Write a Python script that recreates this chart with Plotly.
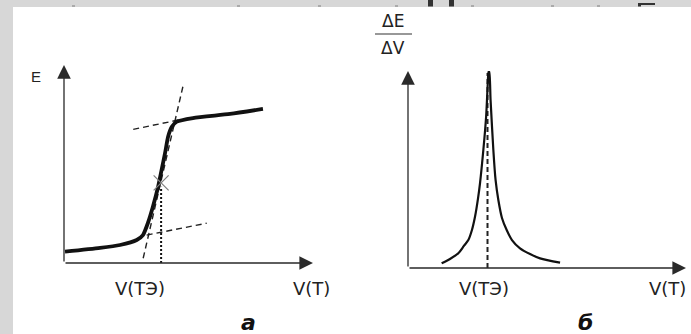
import plotly.graph_objects as go

W, H = 691, 334

# ---- data (schematic units) ----
# (a) potentiometric titration curve E = f(V)
titr_v = [0.04, 1.45, 2.25, 2.92, 3.17, 3.37, 3.57, 3.78, 3.92, 4.06, 4.18, 4.33, 4.53, 5.18, 6.67, 7.99]
titr_e = [0.57, 0.76, 0.91, 1.16, 1.41, 2.02, 2.84, 3.85, 4.70, 5.56, 6.38, 6.88, 7.14, 7.32, 7.53, 7.78]
# tangent lines
upper_v = [2.78, 4.59]
upper_e = [6.75, 7.22]
steep_v = [3.18, 4.79]
steep_e = [0.24, 8.99]
lower_v = [3.32, 5.73]
lower_e = [1.41, 2.01]
# equivalence point
eq_v = 3.9
eq_e = 4.05

# (б) first derivative dE/dV = f(V)
deriv_v = [1.21, 1.51, 1.81, 2.01, 2.17, 2.30, 2.41, 2.52, 2.59, 2.71, 2.81, 2.87, 2.90,
           2.92, 2.97, 3.07, 3.15, 3.25, 3.38, 3.55, 3.74, 4.03, 4.39, 4.75, 5.47]
deriv_y = [0.24, 0.46, 0.75, 1.12, 1.42, 1.93, 2.60, 3.55, 4.30, 5.99, 7.68, 9.38, 9.96,
           9.96, 8.53, 5.99, 4.47, 3.45, 2.54, 1.93, 1.42, 1.00, 0.71, 0.49, 0.27]
peak_v = 2.86
peak_y = 9.9

x_labels = ["V(ТЭ)", "V(Т)"]
panel_labels = ["а", "б"]


def px(x):
    return x / W


def py(y):
    return 1 - y / H


fig = go.Figure()

# left panel traces
for tv, te in [(upper_v, upper_e), (steep_v, steep_e), (lower_v, lower_e)]:
    fig.add_trace(go.Scatter(x=tv, y=te, mode="lines", xaxis="x", yaxis="y",
                             line=dict(color="#222", width=1.4, dash="6px,4px")))
fig.add_trace(go.Scatter(x=[eq_v, eq_v], y=[0, eq_e - 0.2], mode="lines", xaxis="x", yaxis="y",
                         line=dict(color="#111", width=2, dash="2px,2px")))
fig.add_trace(go.Scatter(x=titr_v, y=titr_e, mode="lines", xaxis="x", yaxis="y",
                         line=dict(color="#111", width=3.8, shape="spline", smoothing=0.6)))
fig.add_trace(go.Scatter(x=[eq_v], y=[eq_e], mode="markers", xaxis="x", yaxis="y",
                         marker=dict(symbol="x-thin-open", size=15, color="#808080",
                                     line=dict(color="#808080", width=1.2))))

# right panel traces
fig.add_trace(go.Scatter(x=[peak_v, peak_v], y=[0, peak_y], mode="lines", xaxis="x2", yaxis="y2",
                         line=dict(color="#222", width=2, dash="5px,3px")))
fig.add_trace(go.Scatter(x=deriv_v, y=deriv_y, mode="lines", xaxis="x2", yaxis="y2",
                         line=dict(color="#111", width=2.2, shape="spline", smoothing=0.8)))

ax_common = dict(visible=False, range=[0, 10], fixedrange=True)
fig.update_layout(
    width=W, height=H,
    margin=dict(l=0, r=0, t=0, b=0),
    paper_bgcolor="#d7d7d7",
    plot_bgcolor="rgba(0,0,0,0)",
    showlegend=False,
    xaxis=dict(domain=[px(64), px(313)], anchor="y", **ax_common),
    yaxis=dict(domain=[py(263), py(65)], anchor="x", **ax_common),
    xaxis2=dict(domain=[px(408), px(686)], anchor="y2", **ax_common),
    yaxis2=dict(domain=[py(268), py(71)], anchor="x2", **ax_common),
)

shapes = [
    # white sheet
    dict(type="rect", xref="paper", yref="paper", x0=px(13), x1=1, y0=0, y1=py(7),
         fillcolor="white", line=dict(width=0), layer="below"),
    # fraction bar of dE/dV
    dict(type="line", xref="paper", yref="paper", x0=px(375), x1=px(412), y0=py(34), y1=py(34),
         line=dict(color="#333", width=1.2)),
]
# fragments of the cut-off heading in the top grey strip
for (x0, x1, y0, y1, c) in [(428, 433, 0, 6.5, "#333"), (449, 454, 0, 6.5, "#333"),
                            (638, 655, 3, 5, "#333"), (638, 641, 3, 6.5, "#333"),
                            (72, 75, 5, 7, "#aaa"), (237, 240, 5, 7, "#aaa"), (318, 321, 5, 7, "#aaa"),
                            (395, 398, 5, 7, "#aaa"), (471, 474, 5, 7, "#aaa"), (551, 554, 5, 7, "#aaa"),
                            (597, 600, 5, 7, "#aaa")]:
    shapes.append(dict(type="rect", xref="paper", yref="paper", x0=px(x0), x1=px(x1),
                       y0=py(y1), y1=py(y0), fillcolor=c, line=dict(width=0)))

arrow = dict(showarrow=True, arrowhead=2, arrowsize=2.1, arrowwidth=1.3, arrowcolor="#2a2a2a",
             text="", standoff=0)
annotations = [
    dict(x=10, y=0, ax=0, ay=0, xref="x", yref="y", axref="x", ayref="y", **arrow),
    dict(x=0, y=10, ax=0, ay=0, xref="x", yref="y", axref="x", ayref="y", **arrow),
    dict(x=10, y=0, ax=0, ay=0, xref="x2", yref="y2", axref="x2", ayref="y2", **arrow),
    dict(x=0, y=10, ax=0, ay=0, xref="x2", yref="y2", axref="x2", ayref="y2", **arrow),
]

lab_font = dict(family="DejaVu Sans", size=18, color="#222")


def label(text, x, y, font):
    annotations.append(dict(text=text, x=px(x), y=py(y), xref="paper", yref="paper",
                            xanchor="center", yanchor="middle", showarrow=False, font=font))


label("E", 36, 76, dict(family="Liberation Sans", size=15, color="#222"))
label(x_labels[0], 140, 288, lab_font)
label(x_labels[1], 311, 288, lab_font)
label(x_labels[0], 484, 288, lab_font)
label(x_labels[1], 667, 288, lab_font)
label("ΔE", 393, 21, dict(family="DejaVu Sans", size=17, color="#222"))
label("ΔV", 393, 48, dict(family="DejaVu Sans", size=17, color="#222"))
pfont = dict(family="DejaVu Sans", size=22, color="#111", weight="bold", style="italic")
label(panel_labels[0], 248, 322, pfont)
label(panel_labels[1], 585, 322, pfont)

fig.update_layout(shapes=shapes, annotations=annotations)
fig.write_html("out.html")
